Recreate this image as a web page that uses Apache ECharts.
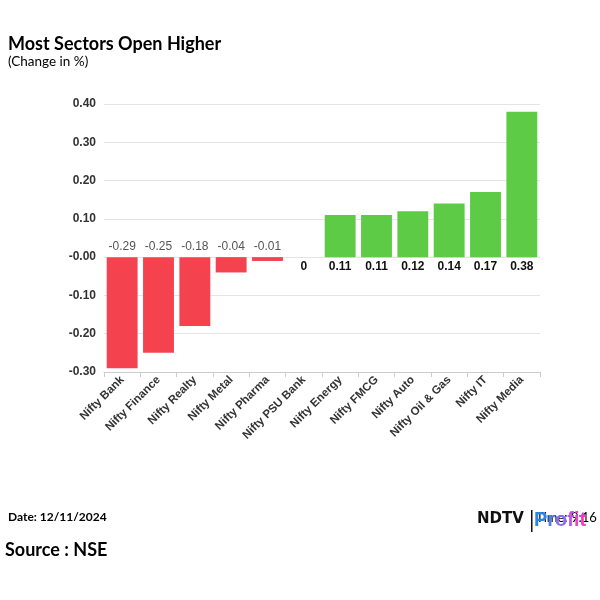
<!DOCTYPE html>
<html><head><meta charset="utf-8">
<script src="https://cdn.jsdelivr.net/npm/echarts@6/dist/echarts.min.js"></script>
<style>html,body{margin:0;padding:0;background:#fff}#c{width:600px;height:600px}</style>
</head><body><div id="c"></div>
<script>
const categories = ["Nifty Bank","Nifty Finance","Nifty Realty","Nifty Metal","Nifty Pharma","Nifty PSU Bank","Nifty Energy","Nifty FMCG","Nifty Auto","Nifty Oil & Gas","Nifty IT","Nifty Media"];
const values = [-0.29,-0.25,-0.18,-0.04,-0.01,0,0.11,0.11,0.12,0.14,0.17,0.38];
const tickValues = [0.4,0.3,0.2,0.1,0,-0.1,-0.2,-0.3];
const tickLabels = ["0.40","0.30","0.20","0.10","-0.00","-0.10","-0.20","-0.30"];

const AR = '"Liberation Sans", Arial, sans-serif';
const chart = echarts.init(document.getElementById('c'));
const data = values.map(v => {
  const neg = v < 0;
  return {
    value: v,
    itemStyle: { color: neg ? '#f4434f' : '#5dcb45' },
    label: neg
      ? { position: 'top', color: '#555', fontWeight: 'normal', distance: 4 }
      : { position: 'bottom', color: '#111', fontWeight: 'bold', distance: 4 }
  };
});
// logo letters (decoration only)
const logoLetters = [['P', '#2a86e0', 0], ['r', '#4f7fe6', 13.3], ['o', '#8a6ef0', 21.1], ['f', '#c057e0', 33.3], ['i', '#e048cc', 40], ['t', '#f03fbf', 45.6]];
const logo = logoLetters.map(([ch, col, dx]) => ({
  type: 'text', left: 534 + dx, top: 510, z: 10,
  style: { text: ch, font: 'bold 20px "Liberation Sans", sans-serif', fill: col }
}));
chart.setOption({
  animation: false,
  graphic: [
    { type: 'text', left: 8, top: 35, style: { text: 'Most Sectors Open Higher', font: 'bold 18px Lato, "Open Sans", sans-serif', fill: '#000' } },
    { type: 'text', left: 8, top: 55, style: { text: '(Change in %)', font: '13.5px Lato, "Open Sans", sans-serif', fill: '#000' } },
    { type: 'text', left: 8, top: 511, style: { text: 'Date: 12/11/2024', font: 'bold 12px Lato, "Open Sans", sans-serif', fill: '#000' } },
    { type: 'text', left: 5, top: 541, style: { text: 'Source : NSE', font: 'bold 18px Lato, "Open Sans", sans-serif', fill: '#000' } },
    { type: 'text', left: 536, top: 511, style: { text: 'Time: 9:16', font: '13px Lato, sans-serif', fill: '#000' } },
    { type: 'text', left: 477, top: 512, style: { text: 'NDTV', font: 'bold 15px "DejaVu Sans", sans-serif', fill: '#111' } },
    { type: 'rect', left: 531, top: 510, shape: { width: 1.5, height: 22 }, style: { fill: '#111' } }
  ].concat(logo),
  grid: { left: 104, right: 60, top: 104, bottom: 228, containLabel: false },
  xAxis: {
    type: 'category',
    data: categories,
    axisLine: { show: true, onZero: false, lineStyle: { color: '#ccc' } },
    axisTick: { show: true, length: 5, lineStyle: { color: '#ccc' } },
    axisLabel: { rotate: 45, interval: 0, color: '#333', fontWeight: 'bold', fontSize: 11.5, margin: 6, fontFamily: AR }
  },
  yAxis: {
    type: 'value',
    min: -0.3, max: 0.4, interval: 0.1,
    axisLine: { show: false },
    axisTick: { show: false },
    splitLine: { lineStyle: { color: '#e4e4e4' } },
    axisLabel: {
      color: '#333', fontWeight: 'bold', fontSize: 12, margin: 8, fontFamily: AR,
      formatter: v => {
        for (let i = 0; i < tickValues.length; i++) if (Math.abs(v - tickValues[i]) < 1e-6) return tickLabels[i];
        return '';
      }
    }
  },
  series: [{
    type: 'bar',
    data: data,
    barCategoryGap: '15%',
    label: { show: true, fontSize: 12, fontFamily: AR, formatter: p => String(p.value) }
  }]
});
</script></body></html>
